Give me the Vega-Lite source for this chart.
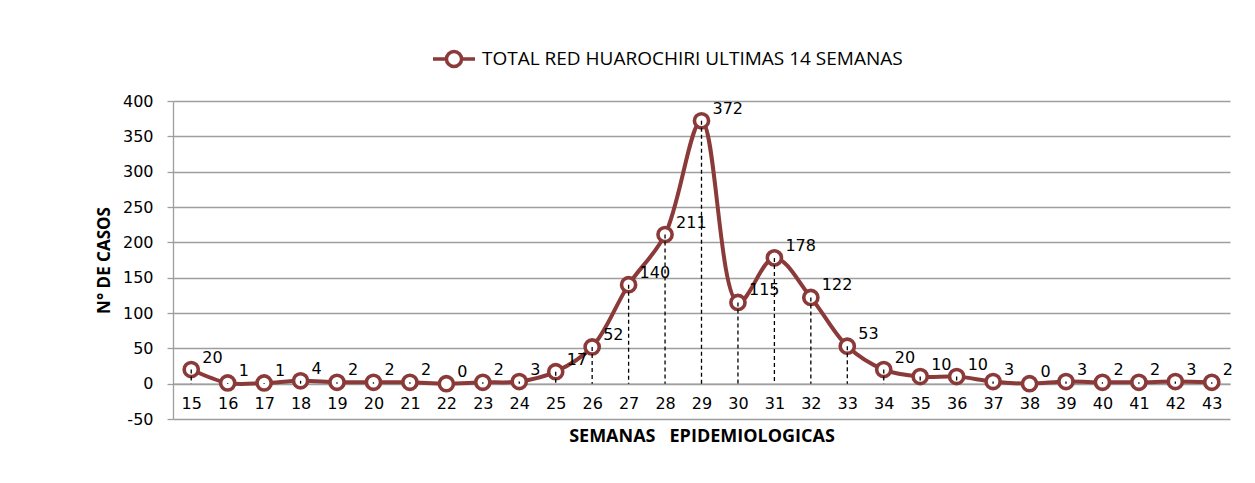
{
  "$schema": "https://vega.github.io/schema/vega-lite/v6.json",
  "autosize": {"type": "none"},
  "padding": {"left": 173, "top": 101, "right": 25, "bottom": 64},
  "width": 1057,
  "height": 318,
  "background": "white",
  "config": {
    "view": {"stroke": null},
    "font": "DejaVu Sans"
  },
  "data": {
    "values": [
      {"semana": "15", "casos": 20, "serie": "TOTAL RED HUAROCHIRI ULTIMAS 14 SEMANAS"},
      {"semana": "16", "casos": 1, "serie": "TOTAL RED HUAROCHIRI ULTIMAS 14 SEMANAS"},
      {"semana": "17", "casos": 1, "serie": "TOTAL RED HUAROCHIRI ULTIMAS 14 SEMANAS"},
      {"semana": "18", "casos": 4, "serie": "TOTAL RED HUAROCHIRI ULTIMAS 14 SEMANAS"},
      {"semana": "19", "casos": 2, "serie": "TOTAL RED HUAROCHIRI ULTIMAS 14 SEMANAS"},
      {"semana": "20", "casos": 2, "serie": "TOTAL RED HUAROCHIRI ULTIMAS 14 SEMANAS"},
      {"semana": "21", "casos": 2, "serie": "TOTAL RED HUAROCHIRI ULTIMAS 14 SEMANAS"},
      {"semana": "22", "casos": 0, "serie": "TOTAL RED HUAROCHIRI ULTIMAS 14 SEMANAS"},
      {"semana": "23", "casos": 2, "serie": "TOTAL RED HUAROCHIRI ULTIMAS 14 SEMANAS"},
      {"semana": "24", "casos": 3, "serie": "TOTAL RED HUAROCHIRI ULTIMAS 14 SEMANAS"},
      {"semana": "25", "casos": 17, "serie": "TOTAL RED HUAROCHIRI ULTIMAS 14 SEMANAS"},
      {"semana": "26", "casos": 52, "serie": "TOTAL RED HUAROCHIRI ULTIMAS 14 SEMANAS"},
      {"semana": "27", "casos": 140, "serie": "TOTAL RED HUAROCHIRI ULTIMAS 14 SEMANAS"},
      {"semana": "28", "casos": 211, "serie": "TOTAL RED HUAROCHIRI ULTIMAS 14 SEMANAS"},
      {"semana": "29", "casos": 372, "serie": "TOTAL RED HUAROCHIRI ULTIMAS 14 SEMANAS"},
      {"semana": "30", "casos": 115, "serie": "TOTAL RED HUAROCHIRI ULTIMAS 14 SEMANAS"},
      {"semana": "31", "casos": 178, "serie": "TOTAL RED HUAROCHIRI ULTIMAS 14 SEMANAS"},
      {"semana": "32", "casos": 122, "serie": "TOTAL RED HUAROCHIRI ULTIMAS 14 SEMANAS"},
      {"semana": "33", "casos": 53, "serie": "TOTAL RED HUAROCHIRI ULTIMAS 14 SEMANAS"},
      {"semana": "34", "casos": 20, "serie": "TOTAL RED HUAROCHIRI ULTIMAS 14 SEMANAS"},
      {"semana": "35", "casos": 10, "serie": "TOTAL RED HUAROCHIRI ULTIMAS 14 SEMANAS"},
      {"semana": "36", "casos": 10, "serie": "TOTAL RED HUAROCHIRI ULTIMAS 14 SEMANAS"},
      {"semana": "37", "casos": 3, "serie": "TOTAL RED HUAROCHIRI ULTIMAS 14 SEMANAS"},
      {"semana": "38", "casos": 0, "serie": "TOTAL RED HUAROCHIRI ULTIMAS 14 SEMANAS"},
      {"semana": "39", "casos": 3, "serie": "TOTAL RED HUAROCHIRI ULTIMAS 14 SEMANAS"},
      {"semana": "40", "casos": 2, "serie": "TOTAL RED HUAROCHIRI ULTIMAS 14 SEMANAS"},
      {"semana": "41", "casos": 2, "serie": "TOTAL RED HUAROCHIRI ULTIMAS 14 SEMANAS"},
      {"semana": "42", "casos": 3, "serie": "TOTAL RED HUAROCHIRI ULTIMAS 14 SEMANAS"},
      {"semana": "43", "casos": 2, "serie": "TOTAL RED HUAROCHIRI ULTIMAS 14 SEMANAS"}
    ]
  },
  "encoding": {
    "x": {
      "field": "semana",
      "type": "ordinal",
      "scale": {"type": "point", "padding": 0.5},
      "axis": {
        "title": "SEMANAS\u00a0\u00a0\u00a0EPIDEMIOLOGICAS",
        "titleFont": "Open Sans",
        "titleFontWeight": "bold",
        "titleFontSize": 18,
        "titleColor": "black",
        "titlePadding": 16,
        "labelAngle": 0,
        "labelFontSize": 16,
        "labelColor": "black",
        "labelPadding": 12,
        "ticks": false,
        "domainColor": "#9E9E9E",
        "domainWidth": 1.3,
        "offset": -35.3,
        "grid": false
      }
    },
    "y": {
      "field": "casos",
      "type": "quantitative",
      "scale": {"domain": [-50, 400], "nice": false},
      "axis": {
        "title": "N° DE CASOS",
        "titleFont": "Open Sans",
        "titleFontWeight": "bold",
        "titleFontSize": 17,
        "titleColor": "black",
        "titlePadding": 9,
        "values": [-50, 0, 50, 100, 150, 200, 250, 300, 350, 400],
        "labelExpr": "'' + datum.value",
        "labelFontSize": 16,
        "labelColor": "black",
        "labelPadding": 14,
        "tickSize": 6,
        "tickColor": "#9E9E9E",
        "tickWidth": 1.3,
        "domainColor": "#9E9E9E",
        "domainWidth": 1.3,
        "gridColor": "#9E9E9E",
        "gridWidth": 1.3
      }
    }
  },
  "layer": [
    {
      "mark": {"type": "line", "interpolate": "catmull-rom", "strokeWidth": 4},
      "encoding": {
        "color": {
          "field": "serie",
          "type": "nominal",
          "scale": {"range": ["#8B3A3A"]},
          "legend": {
            "title": null,
            "orient": "none",
            "legendX": 258,
            "legendY": -65,
            "padding": 0,
            "symbolType": "M-1,0L-0.36,0M0.36,0L1,0M-0.36,0A0.36,0.36,0,1,1,0.36,0A0.36,0.36,0,1,1,-0.36,0Z",
            "symbolSize": 1764,
            "symbolStrokeWidth": 3.5,
            "symbolFillColor": "white",
            "symbolStrokeColor": "#8B3A3A",
            "labelFont": "Open Sans",
            "labelFontSize": 19,
            "labelColor": "black",
            "labelOffset": 5,
            "labelLimit": 0
          }
        }
      }
    },
    {
      "mark": {"type": "point", "shape": "circle", "filled": false, "fill": "white", "fillOpacity": 1, "stroke": "#8B3A3A", "strokeWidth": 3.6, "size": 200, "opacity": 1}
    },
    {
      "mark": {"type": "rule", "color": "black", "strokeDash": [4, 3], "strokeWidth": 1.3},
      "encoding": {
        "y2": {"datum": 0}
      }
    },
    {
      "mark": {"type": "text", "align": "left", "baseline": "middle", "dx": 11, "dy": -12, "fontSize": 16, "color": "black"},
      "encoding": {
        "text": {"field": "casos", "type": "quantitative"}
      }
    }
  ]
}
